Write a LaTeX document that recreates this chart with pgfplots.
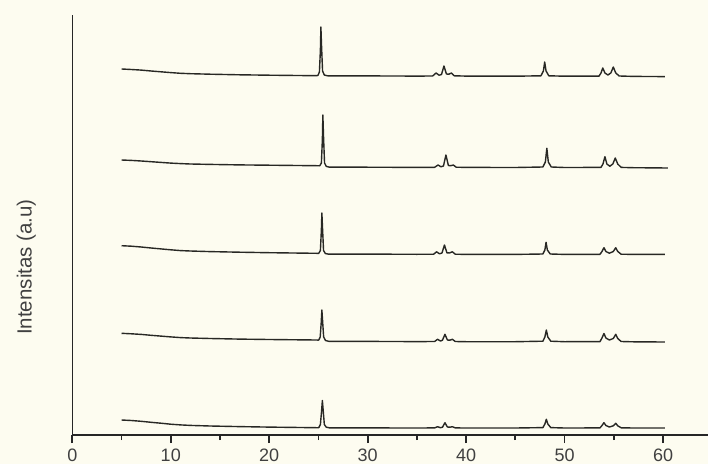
\documentclass[border=0pt]{standalone}
\usepackage{fontspec}
\setmainfont{Liberation Sans}
\usepackage{pgfplots}
\pgfplotsset{compat=1.18}
\definecolor{cream}{RGB}{253,252,240}
\definecolor{trace}{RGB}{40,40,36}
\begin{document}
\begin{tikzpicture}
\fill[cream] (-72.3pt,-29pt) rectangle (635.7pt,435pt);
\useasboundingbox (-72.3pt,-29pt) rectangle (635.7pt,435pt);
\begin{axis}[
  at={(0,0)}, anchor=south west,
  scale only axis, width=635.7pt, height=420pt,
  xmin=0, xmax=64.57, ymin=0, ymax=420,
  axis x line=bottom, axis y line=left,
  axis line style={-, line width=1.3pt, black!85},
  xtick={0,10,...,60}, minor xtick={5,15,...,55}, ytick=\empty,
  tick align=outside, major tick length=8pt, minor tick length=5pt,
  every tick/.style={black!85, line width=1.7pt},
  /pgf/number format/assume math mode=true,
  tick label style={font=\fontsize{18}{20}\selectfont, text=black!75},
  xticklabel style={anchor=base, yshift=-18pt, inner sep=0pt},
  ylabel={Intensitas (a.u)},
  ylabel style={at={(axis description cs:-0.0724,0.4)}, anchor=center, font=\fontsize{20.5}{22}\selectfont, text=black!75},
  clip=false,
  every axis plot post/.append style={trace, line width=1.4pt, line join=round, mark=none},
]
% trace 1 (top)
\addplot coordinates {
(5,366.0) (6,365.5) (7,364.9) (8,364.0) (9,363.2) (10,362.4) (11,361.7) (12,361.3) (14,360.8) (17,360.2) (20,359.8) (24.8,359.3)
(24.95,359.6) (25.1,363) (25.2,385) (25.25,408) (25.32,388) (25.42,364) (25.6,360) (25.9,359.2)
(30,359.1) (35,358.9) (36.6,359) (36.95,362) (37.25,359.8) (37.5,360.5) (37.75,369) (38.0,361) (38.25,360.8) (38.5,362) (38.8,359.2) (40,358.9) (45,358.8)
(47.6,359.2) (47.85,364) (47.98,373) (48.12,364) (48.4,359.2) (50,358.8) (53.5,358.9) (53.7,362) (53.88,367) (54.1,362) (54.4,360) (54.7,362) (54.95,368) (55.2,362) (55.55,359) (57,358.6) (60.2,358.4)
};
% trace 2
\addplot coordinates {
(5,275.0) (6,274.6) (7,274.0) (8,273.3) (9,272.6) (10,271.9) (11,271.4) (12,271.0) (14,270.6) (17,270.1) (20,269.8) (24.8,269.3) (25.1,269.2)
(25.15,269.5) (25.3,272) (25.4,295) (25.45,320) (25.52,298) (25.62,272) (25.8,268.6) (26.1,267.9)
(30,267.8) (35,267.6) (36.8,267.7) (37.15,270) (37.45,268.2) (37.7,269) (37.95,280) (38.2,269.5) (38.45,269.3) (38.7,270) (39,267.8) (40,267.6) (45,267.5)
(47.8,268) (48.05,273) (48.2,286.7) (48.35,273) (48.65,268) (50,267.5) (53.7,267.6) (53.9,271) (54.1,278.3) (54.3,271) (54.6,268.8) (54.9,271) (55.15,277) (55.4,271) (55.75,267.6) (57,267.3) (60.5,267.0)
};
% trace 3
\addplot coordinates {
(5,189.3) (6,188.8) (7,188.0) (8,187.0) (9,186.1) (10,185.2) (11,184.4) (12,184.0) (14,183.4) (17,182.8) (20,182.3) (24.8,181.7) (25.0,181.6)
(25.05,181.9) (25.2,184.5) (25.3,205) (25.35,222) (25.42,206) (25.52,184.5) (25.7,181.5) (26,180.9)
(30,180.9) (35,180.7) (36.7,180.8) (37.0,183.2) (37.3,181.2) (37.55,182) (37.8,190) (38.05,182.2) (38.3,182) (38.6,183.2) (38.9,180.8) (40,180.6) (45,180.6)
(47.8,181) (48.0,185) (48.12,192.7) (48.25,185) (48.55,181) (50,180.6) (53.6,180.7) (53.8,183.5) (54.0,187.3) (54.2,183.5) (54.55,181.8) (54.95,183.5) (55.2,187.3) (55.4,183.5) (55.75,180.8) (57,180.6) (60.2,180.6)
};
% trace 4
\addplot coordinates {
(5,101.7) (6,101.2) (7,100.6) (8,99.7) (9,98.9) (10,98.1) (11,97.4) (12,97.0) (14,96.5) (17,95.9) (20,95.5) (24.8,95.0) (25.0,94.9)
(25.05,95.3) (25.18,98) (25.28,112) (25.35,125) (25.43,113) (25.53,98) (25.72,94.5) (26.05,93.7)
(30,93.6) (35,93.4) (36.8,93.5) (37.1,95.7) (37.4,94) (37.6,94.8) (37.85,100.7) (38.1,95) (38.35,94.8) (38.6,95.7) (38.9,93.5) (40,93.3) (45,93.3)
(47.8,93.8) (48.0,98) (48.15,105) (48.3,98) (48.6,93.8) (50,93.3) (53.6,93.4) (53.8,97) (54.0,101.5) (54.2,97) (54.55,95) (54.95,96.5) (55.2,100.7) (55.4,96.5) (55.75,93.5) (57,93.2) (60.2,93.0)
};
% trace 5 (bottom)
\addplot coordinates {
(5,15.0) (6,14.5) (7,13.7) (8,12.7) (9,11.8) (10,10.8) (11,10.1) (12,9.6) (14,9.0) (17,8.4) (20,7.9) (24.8,7.3) (25.0,7.3)
(25.05,7.6) (25.2,10.5) (25.32,24) (25.4,34.5) (25.48,25) (25.6,10.5) (25.8,7.8) (26.1,7.2)
(30,7.1) (35,7.0) (36.8,7.1) (37.1,8.3) (37.4,7.3) (37.6,7.8) (37.85,12.3) (38.1,8) (38.35,7.8) (38.6,8.3) (38.9,7.1) (40,7.0) (45,7.0)
(47.8,7.4) (48.0,11) (48.15,15.7) (48.3,11) (48.6,7.4) (50,7.0) (53.6,7.1) (53.8,9.5) (54.0,12.3) (54.2,9.5) (54.55,8) (54.95,9.2) (55.2,11.7) (55.4,9.2) (55.75,7.2) (57,7.0) (60.2,7.0)
};
\end{axis}
\end{tikzpicture}
\end{document}
